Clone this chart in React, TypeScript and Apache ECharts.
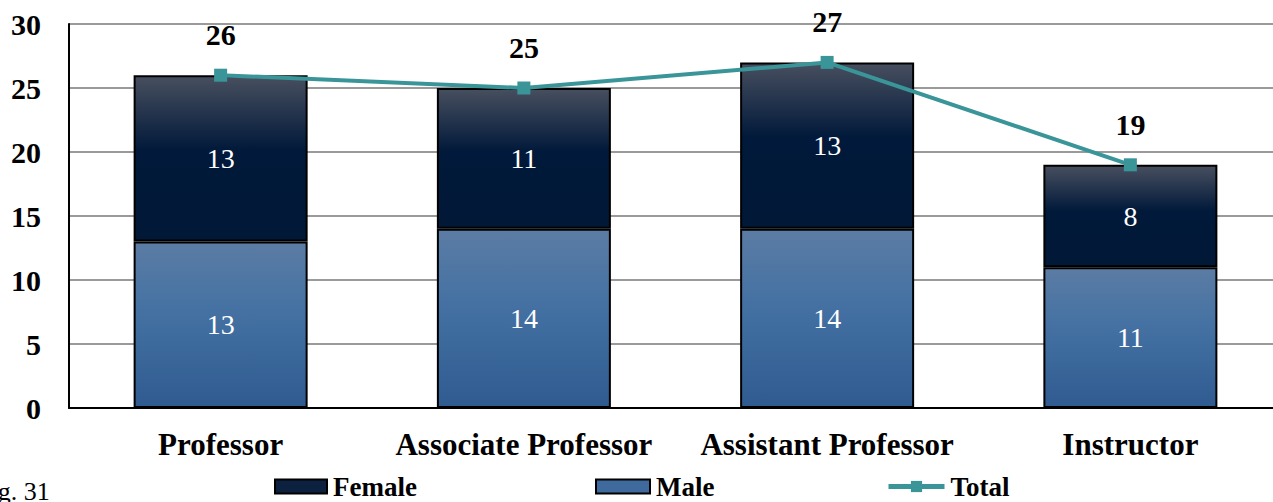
import React, { useEffect, useRef } from "react";
import * as echarts from "echarts";

const categories = ["Professor", "Associate Professor", "Assistant Professor", "Instructor"];
const femaleValues = [13, 11, 13, 8];
const maleValues = [13, 14, 14, 11];
const totalValues = [26, 25, 27, 19];
const yTicks = [0, 5, 10, 15, 20, 25, 30];

const FONT = "Liberation Serif";

export default function App() {
  const ref = useRef<HTMLDivElement>(null);
  useEffect(() => {
    if (!ref.current) return;
    const chart = echarts.init(ref.current, undefined, { renderer: "svg" });
    const femaleGrad = new echarts.graphic.LinearGradient(0, 0, 0, 1, [
      { offset: 0, color: "#474f5f" },
      { offset: 0.45, color: "#01193a" },
      { offset: 1, color: "#011837" },
    ]);
    const maleGrad = new echarts.graphic.LinearGradient(0, 0, 0, 1, [
      { offset: 0, color: "#5b7ca4" },
      { offset: 0.4, color: "#4572a3" },
      { offset: 1, color: "#2f5b91" },
    ]);
    const legendText = {
      fontFamily: FONT,
      fontSize: 27,
      fontWeight: "bold",
      color: "#000",
      lineHeight: 27,
      padding: [0, 0, 0, 1],
    };
    const legendBase = { top: 473, padding: 0, itemHeight: 14, textStyle: legendText };
    chart.setOption({
      animation: false,
      textStyle: { fontFamily: FONT },
      grid: { left: 69, right: 8, top: 24, bottom: 94, containLabel: false },
      legend: [
        {
          ...legendBase,
          left: 274,
          itemWidth: 52,
          icon: "rect",
          data: [{ name: "Female", itemStyle: { color: "#0c213f", borderColor: "#000", borderWidth: 2 } }],
        },
        {
          ...legendBase,
          left: 595,
          itemWidth: 54,
          icon: "rect",
          data: [{ name: "Male", itemStyle: { color: "#3e6a9d", borderColor: "#000", borderWidth: 2 } }],
        },
        {
          ...legendBase,
          left: 886,
          itemWidth: 56,
          data: [{ name: "Total", lineStyle: { width: 5, color: "#3a9599" }, itemStyle: { color: "#3a9599" } }],
        },
      ],
      xAxis: {
        type: "category",
        data: categories,
        axisLine: { lineStyle: { color: "#000", width: 2 } },
        axisTick: { show: false },
        axisLabel: { interval: 0, fontFamily: FONT, fontSize: 31, fontWeight: "bold", color: "#000", margin: 21 },
      },
      yAxis: {
        type: "value",
        min: 0,
        max: 30,
        interval: 5,
        axisLine: { show: true, lineStyle: { color: "#000", width: 2 } },
        axisTick: { show: false },
        splitLine: { lineStyle: { color: "#9a9a9a", width: 2 } },
        axisLabel: {
          fontFamily: FONT,
          fontSize: 30,
          fontWeight: "bold",
          color: "#000",
          margin: 28,
          formatter: (v: number) => (yTicks.includes(v) ? String(v) : ""),
        },
      },
      series: [
        {
          name: "Male",
          type: "bar",
          stack: "s",
          data: maleValues,
          barWidth: 174,
          itemStyle: { color: maleGrad, borderColor: "#000", borderWidth: 2 },
          label: { show: true, position: "inside", color: "#fff", fontFamily: FONT, fontSize: 28 },
        },
        {
          name: "Female",
          type: "bar",
          stack: "s",
          data: femaleValues,
          barWidth: 174,
          itemStyle: { color: femaleGrad, borderColor: "#000", borderWidth: 2 },
          label: { show: true, position: "inside", color: "#fff", fontFamily: FONT, fontSize: 28 },
        },
        {
          name: "Total",
          type: "line",
          data: totalValues,
          symbol: "rect",
          symbolSize: 13,
          lineStyle: { color: "#3a9599", width: 4 },
          itemStyle: { color: "#3a9599" },
          label: {
            show: true,
            position: "top",
            distance: 19,
            color: "#000",
            fontFamily: FONT,
            fontSize: 30,
            fontWeight: "bold",
          },
          z: 5,
        },
      ],
      graphic: [
        {
          type: "text",
          left: -24,
          top: 478,
          style: { text: "Fig. 31", font: `26px ${FONT}`, fill: "#000" },
        },
      ],
    });
    return () => chart.dispose();
  }, []);
  return (
    <div style={{ position: "absolute", left: 0, top: 0, width: 1273, height: 502, overflow: "hidden" }}>
      <div ref={ref} style={{ width: 1290, height: 502 }} />
    </div>
  );
}
